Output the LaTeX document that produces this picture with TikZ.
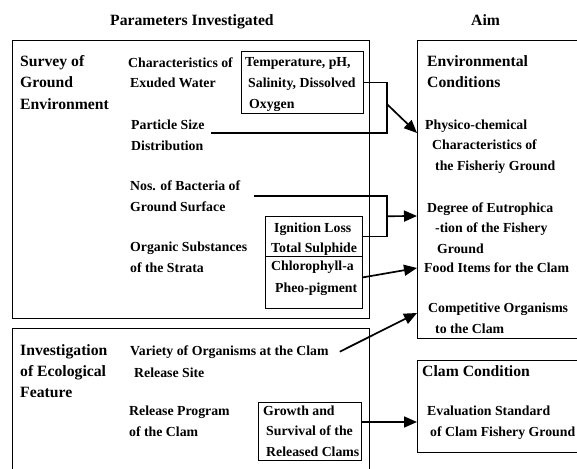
\documentclass[tikz,border=0pt]{standalone}
\usepackage{fontspec}
\setmainfont{Liberation Serif}
\usetikzlibrary{arrows.meta,calc}

\newcommand{\bodysize}{\fontsize{13.8}{20.5}\selectfont\bfseries}
\newcommand{\headsize}{\fontsize{15.7}{21}\selectfont\bfseries}

\begin{document}
\begin{tikzpicture}
[
  x=1pt,
  y=-1pt,
  txt/.style={font=\bodysize,align=left,inner sep=0pt,anchor=base west},
  head/.style={txt,font=\headsize},
  frame/.style={draw,line width=0.9pt,inner sep=0pt,anchor=north west},
  cell/.style={draw,line width=0.8pt,inner sep=0pt,anchor=north west},
  link/.style={line width=1.7pt},
  arr/.style={link,-{Triangle[length=13pt,width=11pt]}}
]
\useasboundingbox (0,0) rectangle (577,468);

% Column headings
\node[head] (hpar) at (110,26) {Parameters Investigated};
\node[head] (haim) at (471,26) {Aim};

% Frames
\node[frame,minimum width=357pt,minimum height=278pt] (survey) at (12,40) {};
\node[frame,minimum width=357pt,minimum height=170pt] (ecol) at (12,328) {};
\node[frame,minimum width=200pt,minimum height=298pt] (envbox) at (417,40) {};
\node[frame,minimum width=200pt,minimum height=92pt] (clambox) at (417,360) {};

% Survey of ground environment (multi-line texts sit on their last baseline)
\node[head] (tsurvey) at (20,109) {Survey of\\Ground\\Environment};
\node[txt] (exud) at (128,88) {Characteristics of\\\hspace*{2pt}Exuded Water};
\node[cell,minimum width=122pt,minimum height=62pt] (tempbox) at (241,51) {};
\node[txt] (temp) at (245,108) {Temperature, pH,\\\hspace*{3pt}Salinity, Dissolved\\\hspace*{4pt}Oxygen};
\node[txt] (psize) at (131,150) {Particle Size\\Distribution};
\node[txt] (bact) at (130,211) {Nos. of Bacteria of\\Ground Surface};
\node[txt] (organic) at (130,272) {Organic Substances\\of the Strata};
\node[cell,minimum width=97pt,minimum height=40pt] (ignbox) at (265,216) {};
\node[cell,minimum width=97pt,minimum height=52pt] (chlbox) at (265,256) {};
\node[txt] (ign) at (271,252) {\hspace*{3pt}Ignition Loss\\[-0.5pt]Total Sulphide};
\node[txt] (chl) at (271,292) {Chlorophyll-a\\[1.5pt]\hspace*{4pt}Pheo-pigment};

% Investigation of ecological feature
\node[head] (tecol) at (20,397) {Investigation\\of Ecological\\Feature};
\node[txt] (variety) at (130,355) {Variety of Organisms at the Clam};
\node[txt] (relsite) at (134,377) {Release Site};
\node[txt] (relprog) at (129,436) {Release Program\\of the Clam};
\node[cell,minimum width=103pt,minimum height=58pt] (growthbox) at (258,402) {};
\node[txt] (growth) at (263,456) {Growth and\\\hspace*{3pt}Survival of the\\\hspace*{3pt}Released Clams};

% Aims
\node[head] (tenv) at (427,88) {Environmental\\Conditions};
\node[txt] (physico) at (425,170) {Physico-chemical\\\hspace*{7pt}Characteristics of\\\hspace*{10pt}the Fisheriy Ground};
\node[txt] (eutro) at (427,253) {Degree of Eutrophica\\\hspace*{8pt}-tion of the Fishery\\\hspace*{10pt}Ground};
\node[txt] (food) at (424,272) {Food Items for the Clam};
\node[txt] (compet) at (428,333) {Competitive Organisms\\\hspace*{7pt}to the Clam};
\node[head] (tclam) at (422,376) {Clam Condition};
\node[txt] (evalu) at (427,436) {Evaluation Standard\\\hspace*{3pt}of Clam Fishery Ground};

% Joints and arrow tips
\coordinate (j1) at (387,133);
\coordinate (j2) at (387,196);
\coordinate (tphys) at (417,133);
\coordinate (teutro) at (417,216);
\coordinate (tfood) at (417,268);
\coordinate (tcomp) at (417,313);
\coordinate (teval) at (417,422);

% Connectors
\draw[link] (tempbox.east) -| (j1) -- ([xshift=6pt]psize.east |- j1);
\draw[arr] ($(tempbox.east -| j1)!0.43!(j1)$) -- (tphys);
\draw[link] ([xshift=14pt]bact.east |- j2) -- (j2) |- (ignbox.east);
\draw[arr] ($(j2)!0.5!(j2 |- ignbox.east)$) -- (teutro);
\draw[arr] ([yshift=5pt]chlbox.east) -- (tfood);
\draw[arr] ([xshift=11pt]variety.east) -- (tcomp);
\draw[arr] (growthbox.east |- teval) -- (teval);

\end{tikzpicture}
\end{document}
